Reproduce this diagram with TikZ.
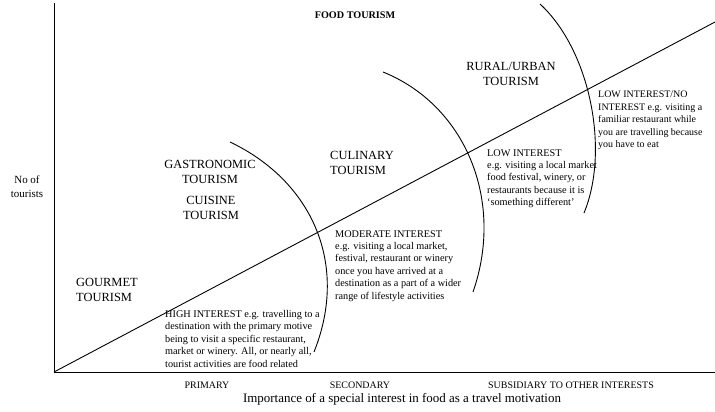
\documentclass[tikz,border=0pt]{standalone}
\usepackage{fontspec}
\setmainfont{Liberation Serif}
\tikzset{
  every node/.style={inner sep=0pt},
  kind/.style={font=\fontsize{12.5}{15}\selectfont, align=center},
  interest/.style={font=\fontsize{10.3}{12.5}\selectfont, align=left, anchor=north west},
  axistext/.style={font=\fontsize{10}{12}\selectfont},
  curve/.style={line width=0.9pt},
}
\begin{document}
\begin{tikzpicture}[x=1bp,y=-1bp]
\useasboundingbox (0,0) rectangle (715,411);

\coordinate (origin) at (54,372);
\coordinate (ytop) at (54,3);
\coordinate (xend) at (715,372);
\coordinate (lineend) at (715,22);

\draw[line width=0.8pt] (ytop) -- (origin) -- (xend);
\draw[curve] (origin) -- (lineend);

\draw[curve] (230,142) .. controls (310,180) and (350,262) .. (314,352);
\draw[curve] (383,72) .. controls (465,105) and (505,200) .. (473,292);
\draw[curve] (540,4) .. controls (590,50) and (610,150) .. (584,213);

\node[font=\fontsize{10.2}{12}\selectfont\bfseries] (food) at (355,15) {FOOD TOURISM};

\node[font=\fontsize{11}{14}\selectfont, align=center] (ylabel) at (27,187) {No of\\tourists};

\node[kind] (gastro) at (210,172) {GASTRONOMIC\\TOURISM};
\node[kind] (cuisine) at (211,208) {CUISINE\\TOURISM};
\node[kind, align=left, anchor=west] (gourmet) at (76,290) {GOURMET\\TOURISM};
\node[kind, align=left, anchor=west] (culinary) at (330,163) {CULINARY\\TOURISM};
\node[kind] (rural) at (511,74) {RURAL/URBAN\\TOURISM};

\node[interest] (high) at (165,310) {HIGH INTEREST e.g. travelling to a\\destination with the primary motive\\being to visit a specific restaurant,\\market or winery. All, or nearly all,\\tourist activities are food related};
\node[interest] (moderate) at (335,230) {MODERATE INTEREST\\e.g. visiting a local market,\\festival, restaurant or winery\\once you have arrived at a\\destination as a part of a wider\\range of lifestyle activities};
\node[interest] (low) at (487,149) {LOW INTEREST\\e.g. visiting a local market\\food festival, winery, or\\restaurants because it is\\`something different'};
\node[interest, font=\fontsize{10}{12.5}\selectfont] (none) at (598,91) {LOW INTEREST/NO\\INTEREST e.g. visiting a\\familiar restaurant while\\you are travelling because\\you have to eat};

\node[axistext] (primary) at (207,385) {PRIMARY};
\node[axistext] (secondary) at (360,385) {SECONDARY};
\node[axistext] (subsidiary) at (571,385) {SUBSIDIARY TO OTHER INTERESTS};
\node[font=\fontsize{13}{15}\selectfont] (xlabel) at (402,399) {Importance of a special interest in food as a travel motivation};
\end{tikzpicture}
\end{document}
